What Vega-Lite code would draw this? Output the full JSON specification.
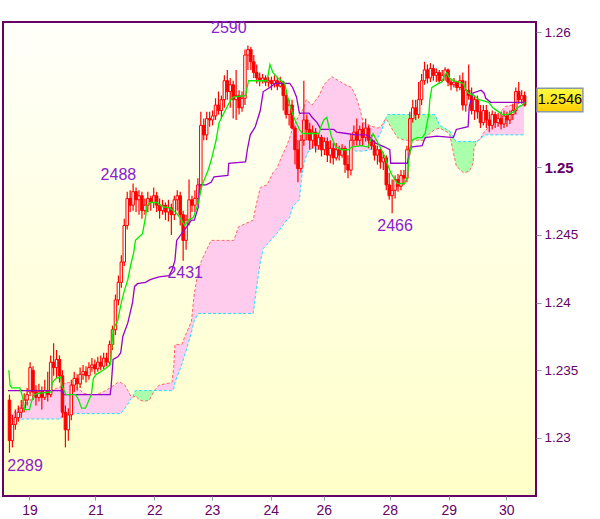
{
"$schema":"https://vega.github.io/schema/vega-lite/v6.json",
"width":533,"height":474,
"autosize":{"type":"none"},
"padding":{"left":3,"top":22,"right":64,"bottom":23},
"background":"#ffffff",
"config":{"view":{"stroke":"#660066","strokeWidth":2,"fill":{"gradient":"linear","x1":0,"y1":0,"x2":0,"y2":1,"stops":[{"offset":0,"color":"#fffffa"},{"offset":1,"color":"#ffffc8"}]}},"font":"Liberation Sans",
 "axis":{"title":null,"grid":false,"domain":false,"tickColor":"#8899aa","labelColor":"#660066","labelFont":"Liberation Sans"}},
"datasets":{
"bars":[
{"t":0,"o":1.2328,"h":1.2332,"l":1.2289,"c":1.2298},
{"t":1,"o":1.2298,"h":1.2317,"l":1.2293,"c":1.2310},
{"t":2,"o":1.2310,"h":1.2321,"l":1.2306,"c":1.2315},
{"t":3,"o":1.2315,"h":1.2324,"l":1.2312,"c":1.2319},
{"t":4,"o":1.2319,"h":1.2328,"l":1.2315,"c":1.2322},
{"t":5,"o":1.2322,"h":1.2333,"l":1.2319,"c":1.2328},
{"t":6,"o":1.2328,"h":1.2337,"l":1.2324,"c":1.2332},
{"t":7,"o":1.2334,"h":1.2356,"l":1.2331,"c":1.2352},
{"t":8,"o":1.2350,"h":1.2353,"l":1.2328,"c":1.2334},
{"t":9,"o":1.2334,"h":1.2339,"l":1.2324,"c":1.2330},
{"t":10,"o":1.2330,"h":1.2340,"l":1.2327,"c":1.2334},
{"t":11,"o":1.2334,"h":1.2338,"l":1.2321,"c":1.2330},
{"t":12,"o":1.2330,"h":1.2343,"l":1.2328,"c":1.2335},
{"t":13,"o":1.2335,"h":1.2349,"l":1.2327,"c":1.2332},
{"t":14,"o":1.2332,"h":1.2361,"l":1.2330,"c":1.2356},
{"t":15,"o":1.2356,"h":1.2370,"l":1.2346,"c":1.2352},
{"t":16,"o":1.2352,"h":1.2365,"l":1.2344,"c":1.2358},
{"t":17,"o":1.2358,"h":1.2361,"l":1.2341,"c":1.2346},
{"t":18,"o":1.2346,"h":1.2350,"l":1.2315,"c":1.2319},
{"t":19,"o":1.2319,"h":1.2324,"l":1.2293,"c":1.2306},
{"t":20,"o":1.2306,"h":1.2322,"l":1.2298,"c":1.2317},
{"t":21,"o":1.2317,"h":1.2343,"l":1.2313,"c":1.2339},
{"t":22,"o":1.2339,"h":1.2349,"l":1.2334,"c":1.2344},
{"t":23,"o":1.2344,"h":1.2347,"l":1.2335,"c":1.2340},
{"t":24,"o":1.2340,"h":1.2352,"l":1.2337,"c":1.2347},
{"t":25,"o":1.2347,"h":1.2354,"l":1.2343,"c":1.2349},
{"t":26,"o":1.2349,"h":1.2353,"l":1.2341,"c":1.2346},
{"t":27,"o":1.2346,"h":1.2356,"l":1.2343,"c":1.2352},
{"t":28,"o":1.2352,"h":1.2359,"l":1.2349,"c":1.2354},
{"t":29,"o":1.2354,"h":1.2358,"l":1.2347,"c":1.2351},
{"t":30,"o":1.2351,"h":1.2360,"l":1.2349,"c":1.2356},
{"t":31,"o":1.2356,"h":1.2361,"l":1.2350,"c":1.2353},
{"t":32,"o":1.2353,"h":1.2363,"l":1.2351,"c":1.2359},
{"t":33,"o":1.2359,"h":1.2363,"l":1.2353,"c":1.2356},
{"t":34,"o":1.2356,"h":1.2372,"l":1.2354,"c":1.2369},
{"t":35,"o":1.2369,"h":1.2383,"l":1.2365,"c":1.2380},
{"t":36,"o":1.2380,"h":1.2406,"l":1.2376,"c":1.2402},
{"t":37,"o":1.2402,"h":1.2420,"l":1.2398,"c":1.2415},
{"t":38,"o":1.2415,"h":1.2435,"l":1.2411,"c":1.2430},
{"t":39,"o":1.2430,"h":1.2462,"l":1.2427,"c":1.2457},
{"t":40,"o":1.2457,"h":1.2482,"l":1.2454,"c":1.2477},
{"t":41,"o":1.2477,"h":1.2483,"l":1.2467,"c":1.2472},
{"t":42,"o":1.2472,"h":1.2488,"l":1.2468,"c":1.2482},
{"t":43,"o":1.2482,"h":1.2485,"l":1.2467,"c":1.2476},
{"t":44,"o":1.2476,"h":1.2483,"l":1.2465,"c":1.2479},
{"t":45,"o":1.2479,"h":1.2482,"l":1.2462,"c":1.2468},
{"t":46,"o":1.2468,"h":1.2477,"l":1.2465,"c":1.2472},
{"t":47,"o":1.2472,"h":1.2482,"l":1.2467,"c":1.2477},
{"t":48,"o":1.2477,"h":1.2479,"l":1.2468,"c":1.2474},
{"t":49,"o":1.2474,"h":1.2485,"l":1.2470,"c":1.2479},
{"t":50,"o":1.2479,"h":1.2482,"l":1.2467,"c":1.2472},
{"t":51,"o":1.2472,"h":1.2477,"l":1.2462,"c":1.2468},
{"t":52,"o":1.2468,"h":1.2476,"l":1.2465,"c":1.2472},
{"t":53,"o":1.2472,"h":1.2474,"l":1.2461,"c":1.2467},
{"t":54,"o":1.2467,"h":1.2476,"l":1.2460,"c":1.2470},
{"t":55,"o":1.2470,"h":1.2473,"l":1.2450,"c":1.2465},
{"t":56,"o":1.2465,"h":1.2479,"l":1.2461,"c":1.2476},
{"t":57,"o":1.2476,"h":1.2483,"l":1.2468,"c":1.2479},
{"t":58,"o":1.2479,"h":1.2482,"l":1.2457,"c":1.2465},
{"t":59,"o":1.2465,"h":1.2468,"l":1.2431,"c":1.2446},
{"t":60,"o":1.2446,"h":1.2465,"l":1.2439,"c":1.2461},
{"t":61,"o":1.2461,"h":1.2491,"l":1.2457,"c":1.2476},
{"t":62,"o":1.2476,"h":1.2479,"l":1.2467,"c":1.2472},
{"t":63,"o":1.2472,"h":1.2483,"l":1.2467,"c":1.2477},
{"t":64,"o":1.2477,"h":1.2492,"l":1.2472,"c":1.2487},
{"t":65,"o":1.2487,"h":1.2541,"l":1.2483,"c":1.2531},
{"t":66,"o":1.2531,"h":1.2536,"l":1.2520,"c":1.2524},
{"t":67,"o":1.2524,"h":1.2541,"l":1.2520,"c":1.2536},
{"t":68,"o":1.2536,"h":1.2541,"l":1.2530,"c":1.2535},
{"t":69,"o":1.2535,"h":1.2542,"l":1.2531,"c":1.2538},
{"t":70,"o":1.2538,"h":1.2551,"l":1.2535,"c":1.2546},
{"t":71,"o":1.2546,"h":1.2556,"l":1.2539,"c":1.2542},
{"t":72,"o":1.2542,"h":1.2553,"l":1.2536,"c":1.2550},
{"t":73,"o":1.2550,"h":1.2568,"l":1.2544,"c":1.2564},
{"t":74,"o":1.2564,"h":1.2572,"l":1.2550,"c":1.2556},
{"t":75,"o":1.2556,"h":1.2566,"l":1.2544,"c":1.2561},
{"t":76,"o":1.2561,"h":1.2564,"l":1.2536,"c":1.2550},
{"t":77,"o":1.2550,"h":1.2572,"l":1.2535,"c":1.2553},
{"t":78,"o":1.2553,"h":1.2557,"l":1.2539,"c":1.2544},
{"t":79,"o":1.2544,"h":1.2556,"l":1.2541,"c":1.2551},
{"t":80,"o":1.2551,"h":1.2587,"l":1.2546,"c":1.2583},
{"t":81,"o":1.2583,"h":1.2590,"l":1.2572,"c":1.2587},
{"t":82,"o":1.2587,"h":1.2589,"l":1.2572,"c":1.2578},
{"t":83,"o":1.2578,"h":1.2583,"l":1.2566,"c":1.2570},
{"t":84,"o":1.2570,"h":1.2576,"l":1.2562,"c":1.2566},
{"t":85,"o":1.2566,"h":1.2570,"l":1.2560,"c":1.2564},
{"t":86,"o":1.2564,"h":1.2569,"l":1.2562,"c":1.2566},
{"t":87,"o":1.2566,"h":1.2568,"l":1.2560,"c":1.2563},
{"t":88,"o":1.2563,"h":1.2567,"l":1.2559,"c":1.2564},
{"t":89,"o":1.2564,"h":1.2567,"l":1.2557,"c":1.2562},
{"t":90,"o":1.2562,"h":1.2568,"l":1.2559,"c":1.2564},
{"t":91,"o":1.2564,"h":1.2567,"l":1.2557,"c":1.2560},
{"t":92,"o":1.2560,"h":1.2567,"l":1.2559,"c":1.2563},
{"t":93,"o":1.2563,"h":1.2564,"l":1.2542,"c":1.2553},
{"t":94,"o":1.2553,"h":1.2557,"l":1.2536,"c":1.2539},
{"t":95,"o":1.2539,"h":1.2550,"l":1.2531,"c":1.2546},
{"t":96,"o":1.2546,"h":1.2550,"l":1.2528,"c":1.2529},
{"t":97,"o":1.2529,"h":1.2531,"l":1.2502,"c":1.2513},
{"t":98,"o":1.2513,"h":1.2520,"l":1.2489,"c":1.2499},
{"t":99,"o":1.2499,"h":1.2524,"l":1.2496,"c":1.2520},
{"t":100,"o":1.2520,"h":1.2564,"l":1.2516,"c":1.2535},
{"t":101,"o":1.2535,"h":1.2539,"l":1.2520,"c":1.2528},
{"t":102,"o":1.2528,"h":1.2533,"l":1.2513,"c":1.2520},
{"t":103,"o":1.2520,"h":1.2531,"l":1.2514,"c":1.2526},
{"t":104,"o":1.2526,"h":1.2529,"l":1.2511,"c":1.2516},
{"t":105,"o":1.2516,"h":1.2525,"l":1.2513,"c":1.2522},
{"t":106,"o":1.2522,"h":1.2524,"l":1.2508,"c":1.2513},
{"t":107,"o":1.2513,"h":1.2522,"l":1.2509,"c":1.2519},
{"t":108,"o":1.2519,"h":1.2522,"l":1.2504,"c":1.2509},
{"t":109,"o":1.2509,"h":1.2520,"l":1.2503,"c":1.2514},
{"t":110,"o":1.2514,"h":1.2518,"l":1.2502,"c":1.2507},
{"t":111,"o":1.2507,"h":1.2518,"l":1.2505,"c":1.2513},
{"t":112,"o":1.2513,"h":1.2516,"l":1.2505,"c":1.2509},
{"t":113,"o":1.2509,"h":1.2517,"l":1.2507,"c":1.2514},
{"t":114,"o":1.2514,"h":1.2516,"l":1.2496,"c":1.2502},
{"t":115,"o":1.2502,"h":1.2509,"l":1.2492,"c":1.2498},
{"t":116,"o":1.2498,"h":1.2524,"l":1.2494,"c":1.2520},
{"t":117,"o":1.2520,"h":1.2531,"l":1.2516,"c":1.2526},
{"t":118,"o":1.2526,"h":1.2536,"l":1.2516,"c":1.2520},
{"t":119,"o":1.2520,"h":1.2531,"l":1.2516,"c":1.2528},
{"t":120,"o":1.2528,"h":1.2533,"l":1.2516,"c":1.2522},
{"t":121,"o":1.2522,"h":1.2536,"l":1.2519,"c":1.2529},
{"t":122,"o":1.2529,"h":1.2531,"l":1.2514,"c":1.2520},
{"t":123,"o":1.2520,"h":1.2524,"l":1.2513,"c":1.2516},
{"t":124,"o":1.2516,"h":1.2520,"l":1.2505,"c":1.2509},
{"t":125,"o":1.2509,"h":1.2516,"l":1.2502,"c":1.2513},
{"t":126,"o":1.2513,"h":1.2514,"l":1.2499,"c":1.2504},
{"t":127,"o":1.2504,"h":1.2511,"l":1.2498,"c":1.2507},
{"t":128,"o":1.2507,"h":1.2509,"l":1.2483,"c":1.2487},
{"t":129,"o":1.2487,"h":1.2496,"l":1.2476,"c":1.2479},
{"t":130,"o":1.2479,"h":1.2491,"l":1.2466,"c":1.2483},
{"t":131,"o":1.2483,"h":1.2494,"l":1.2477,"c":1.2491},
{"t":132,"o":1.2491,"h":1.2495,"l":1.2482,"c":1.2486},
{"t":133,"o":1.2486,"h":1.2498,"l":1.2483,"c":1.2494},
{"t":134,"o":1.2494,"h":1.2498,"l":1.2487,"c":1.2492},
{"t":135,"o":1.2492,"h":1.2516,"l":1.2489,"c":1.2513},
{"t":136,"o":1.2513,"h":1.2541,"l":1.2509,"c":1.2536},
{"t":137,"o":1.2536,"h":1.2550,"l":1.2533,"c":1.2544},
{"t":138,"o":1.2544,"h":1.2550,"l":1.2535,"c":1.2539},
{"t":139,"o":1.2539,"h":1.2563,"l":1.2536,"c":1.2550},
{"t":140,"o":1.2550,"h":1.2569,"l":1.2546,"c":1.2564},
{"t":141,"o":1.2564,"h":1.2578,"l":1.2561,"c":1.2572},
{"t":142,"o":1.2572,"h":1.2576,"l":1.2562,"c":1.2566},
{"t":143,"o":1.2566,"h":1.2577,"l":1.2563,"c":1.2573},
{"t":144,"o":1.2573,"h":1.2576,"l":1.2564,"c":1.2568},
{"t":145,"o":1.2568,"h":1.2573,"l":1.2563,"c":1.2570},
{"t":146,"o":1.2570,"h":1.2572,"l":1.2562,"c":1.2564},
{"t":147,"o":1.2564,"h":1.2572,"l":1.2563,"c":1.2568},
{"t":148,"o":1.2568,"h":1.2574,"l":1.2564,"c":1.2572},
{"t":149,"o":1.2572,"h":1.2573,"l":1.2560,"c":1.2563},
{"t":150,"o":1.2563,"h":1.2565,"l":1.2557,"c":1.2561},
{"t":151,"o":1.2561,"h":1.2566,"l":1.2559,"c":1.2563},
{"t":152,"o":1.2563,"h":1.2564,"l":1.2556,"c":1.2559},
{"t":153,"o":1.2559,"h":1.2568,"l":1.2557,"c":1.2564},
{"t":154,"o":1.2564,"h":1.2570,"l":1.2542,"c":1.2546},
{"t":155,"o":1.2546,"h":1.2564,"l":1.2541,"c":1.2557},
{"t":156,"o":1.2557,"h":1.2576,"l":1.2550,"c":1.2553},
{"t":157,"o":1.2553,"h":1.2559,"l":1.2539,"c":1.2542},
{"t":158,"o":1.2542,"h":1.2553,"l":1.2535,"c":1.2550},
{"t":159,"o":1.2550,"h":1.2553,"l":1.2536,"c":1.2541},
{"t":160,"o":1.2541,"h":1.2546,"l":1.2529,"c":1.2533},
{"t":161,"o":1.2533,"h":1.2546,"l":1.2531,"c":1.2542},
{"t":162,"o":1.2542,"h":1.2546,"l":1.2529,"c":1.2535},
{"t":163,"o":1.2535,"h":1.2541,"l":1.2526,"c":1.2531},
{"t":164,"o":1.2531,"h":1.2542,"l":1.2528,"c":1.2539},
{"t":165,"o":1.2539,"h":1.2541,"l":1.2529,"c":1.2533},
{"t":166,"o":1.2533,"h":1.2540,"l":1.2530,"c":1.2536},
{"t":167,"o":1.2536,"h":1.2541,"l":1.2528,"c":1.2532},
{"t":168,"o":1.2532,"h":1.2542,"l":1.2529,"c":1.2538},
{"t":169,"o":1.2538,"h":1.2541,"l":1.2530,"c":1.2535},
{"t":170,"o":1.2535,"h":1.2542,"l":1.2532,"c":1.2539},
{"t":171,"o":1.2539,"h":1.2547,"l":1.2535,"c":1.2542},
{"t":172,"o":1.2542,"h":1.2559,"l":1.2539,"c":1.2556},
{"t":173,"o":1.2556,"h":1.2563,"l":1.2547,"c":1.2550},
{"t":174,"o":1.2550,"h":1.2557,"l":1.2547,"c":1.2553},
{"t":175,"o":1.2553,"h":1.2556,"l":1.2545,"c":1.2546}
],
"tenkan":[
{"t":-0.2,"v":1.2350},{"t":0.2,"v":1.2339},{"t":0.8,"v":1.2337},{"t":3.5,"v":1.2337},{"t":4.5,"v":1.2330},{"t":5.2,"v":1.2321},{"t":6.8,"v":1.2321},{"t":7.5,"v":1.2327},{"t":8.5,"v":1.2332},{"t":9.5,"v":1.2333},{"t":14.2,"v":1.2334},{"t":14.5,"v":1.2341},{"t":15.8,"v":1.2344},{"t":17.5,"v":1.2345},{"t":17.8,"v":1.2339},{"t":19.2,"v":1.2332},{"t":22.5,"v":1.2332},{"t":23.5,"v":1.2328},{"t":24.5,"v":1.2322},{"t":25.8,"v":1.2322},{"t":26.8,"v":1.2327},{"t":27.8,"v":1.2332},{"t":28.5,"v":1.2344},{"t":29.5,"v":1.2347},{"t":31.8,"v":1.2350},{"t":34.2,"v":1.2354},{"t":34.5,"v":1.2360},{"t":35.2,"v":1.2380},{"t":36.8,"v":1.2387},{"t":37.8,"v":1.2398},{"t":38.8,"v":1.2407},{"t":40.2,"v":1.2417},{"t":41.2,"v":1.2428},{"t":42.2,"v":1.2437},{"t":42.8,"v":1.2446},{"t":45.2,"v":1.2451},{"t":46.2,"v":1.2463},{"t":46.8,"v":1.2472},{"t":47.8,"v":1.2474},{"t":50.2,"v":1.2474},{"t":51.8,"v":1.2471},{"t":54.5,"v":1.2470},{"t":56.8,"v":1.2466},{"t":58.5,"v":1.2461},{"t":59.5,"v":1.2457},{"t":60.8,"v":1.2461},{"t":62.5,"v":1.2463},{"t":64.2,"v":1.2474},{"t":65.2,"v":1.2485},{"t":66.2,"v":1.2491},{"t":67.5,"v":1.2498},{"t":68.5,"v":1.2505},{"t":70.2,"v":1.2520},{"t":71.2,"v":1.2533},{"t":72.8,"v":1.2540},{"t":75.2,"v":1.2550},{"t":76.2,"v":1.2552},{"t":80.2,"v":1.2553},{"t":81.2,"v":1.2564},{"t":87.5,"v":1.2564},{"t":88.5,"v":1.2576},{"t":89.5,"v":1.2570},{"t":91.2,"v":1.2566},{"t":93.5,"v":1.2562},{"t":94.5,"v":1.2552},{"t":95.8,"v":1.2542},{"t":96.8,"v":1.2536},{"t":98.5,"v":1.2528},{"t":99.5,"v":1.2525},{"t":105.2,"v":1.2525},{"t":105.8,"v":1.2530},{"t":106.8,"v":1.2535},{"t":107.8,"v":1.2537},{"t":108.5,"v":1.2530},{"t":109.5,"v":1.2522},{"t":110.8,"v":1.2515},{"t":112.8,"v":1.2513},{"t":115.2,"v":1.2513},{"t":116.2,"v":1.2515},{"t":119.5,"v":1.2516},{"t":121.8,"v":1.2515},{"t":123.5,"v":1.2525},{"t":124.2,"v":1.2522},{"t":125.2,"v":1.2518},{"t":127.5,"v":1.2508},{"t":129.5,"v":1.2496},{"t":131.8,"v":1.2488},{"t":134.2,"v":1.2488},{"t":135.2,"v":1.2493},{"t":135.8,"v":1.2508},{"t":136.8,"v":1.2520},{"t":138.5,"v":1.2522},{"t":140.2,"v":1.2522},{"t":141.2,"v":1.2525},{"t":142.5,"v":1.2540},{"t":142.8,"v":1.2550},{"t":143.5,"v":1.2559},{"t":145.8,"v":1.2562},{"t":146.8,"v":1.2563},{"t":147.8,"v":1.2568},{"t":148.5,"v":1.2570},{"t":149.5,"v":1.2566},{"t":150.8,"v":1.2564},{"t":154.2,"v":1.2562},{"t":155.2,"v":1.2557},{"t":155.8,"v":1.2555},{"t":157.8,"v":1.2553},{"t":159.5,"v":1.2550},{"t":162.8,"v":1.2548},{"t":164.2,"v":1.2544},{"t":166.2,"v":1.2541},{"t":167.5,"v":1.2539},{"t":169.2,"v":1.2539},{"t":171.2,"v":1.2541},{"t":172.5,"v":1.2544},{"t":174.2,"v":1.2546},{"t":175.2,"v":1.2548}
],
"kijun":[
{"t":-0.5,"v":1.2335},{"t":17.8,"v":1.2335},{"t":18.5,"v":1.2332},{"t":34.2,"v":1.2332},{"t":34.5,"v":1.2337},{"t":35.2,"v":1.2358},{"t":36.8,"v":1.2360},{"t":37.8,"v":1.2363},{"t":38.5,"v":1.2375},{"t":40.2,"v":1.2385},{"t":41.8,"v":1.2400},{"t":42.5,"v":1.2412},{"t":43.5,"v":1.2414},{"t":46.2,"v":1.2415},{"t":47.8,"v":1.2417},{"t":50.8,"v":1.2419},{"t":54.2,"v":1.2420},{"t":55.2,"v":1.2424},{"t":56.2,"v":1.2431},{"t":56.8,"v":1.2446},{"t":58.5,"v":1.2451},{"t":60.2,"v":1.2456},{"t":61.8,"v":1.2461},{"t":62.8,"v":1.2461},{"t":64.2,"v":1.2471},{"t":64.5,"v":1.2487},{"t":66.8,"v":1.2487},{"t":68.5,"v":1.2489},{"t":69.5,"v":1.2493},{"t":74.2,"v":1.2494},{"t":74.5,"v":1.2503},{"t":80.2,"v":1.2504},{"t":80.8,"v":1.2513},{"t":81.8,"v":1.2524},{"t":83.5,"v":1.2530},{"t":85.2,"v":1.2542},{"t":86.2,"v":1.2556},{"t":88.5,"v":1.2559},{"t":90.2,"v":1.2562},{"t":95.2,"v":1.2562},{"t":96.2,"v":1.2559},{"t":97.5,"v":1.2552},{"t":98.5,"v":1.2540},{"t":101.8,"v":1.2540},{"t":102.8,"v":1.2537},{"t":104.5,"v":1.2533},{"t":105.8,"v":1.2528},{"t":110.2,"v":1.2528},{"t":111.2,"v":1.2526},{"t":114.5,"v":1.2525},{"t":117.8,"v":1.2524},{"t":121.2,"v":1.2524},{"t":122.5,"v":1.2522},{"t":124.2,"v":1.2518},{"t":127.5,"v":1.2515},{"t":129.2,"v":1.2513},{"t":129.5,"v":1.2503},{"t":135.2,"v":1.2503},{"t":136.2,"v":1.2515},{"t":140.2,"v":1.2516},{"t":141.2,"v":1.2522},{"t":145.2,"v":1.2523},{"t":150.8,"v":1.2522},{"t":151.8,"v":1.2528},{"t":155.8,"v":1.2530},{"t":156.2,"v":1.2545},{"t":157.5,"v":1.2555},{"t":160.2,"v":1.2557},{"t":161.2,"v":1.2555},{"t":161.8,"v":1.2551},{"t":163.5,"v":1.2548},{"t":175.2,"v":1.2548}
],
"cloud":[
{"s":1,"k":"p","t":0.2,"a":1.2316,"b":1.2316},{"s":1,"k":"p","t":1.2,"a":1.2318,"b":1.2312},{"s":1,"k":"p","t":3.5,"a":1.2323,"b":1.2314},{"s":1,"k":"p","t":6.8,"a":1.2327,"b":1.2314},{"s":1,"k":"p","t":7.8,"a":1.2330,"b":1.2314},{"s":1,"k":"p","t":9.2,"a":1.2334,"b":1.2314},{"s":1,"k":"p","t":14.2,"a":1.2335,"b":1.2314},{"s":1,"k":"p","t":17.5,"a":1.2338,"b":1.2314},{"s":1,"k":"p","t":17.8,"a":1.2340,"b":1.2318},{"s":1,"k":"p","t":20.2,"a":1.2341,"b":1.2318},{"s":1,"k":"p","t":21.8,"a":1.2339,"b":1.2318},{"s":1,"k":"p","t":24.2,"a":1.2335,"b":1.2318},{"s":1,"k":"p","t":25.2,"a":1.2333,"b":1.2318},{"s":1,"k":"p","t":27.5,"a":1.2332,"b":1.2318},{"s":1,"k":"p","t":29.5,"a":1.2332,"b":1.2318},{"s":1,"k":"p","t":31.8,"a":1.2334,"b":1.2318},{"s":1,"k":"p","t":34.2,"a":1.2337,"b":1.2318},{"s":1,"k":"p","t":36.8,"a":1.2341,"b":1.2318},{"s":1,"k":"p","t":37.8,"a":1.2341,"b":1.2318},{"s":1,"k":"p","t":39.2,"a":1.2339,"b":1.2322},{"s":1,"k":"p","t":40.2,"a":1.2335,"b":1.2325},{"s":1,"k":"p","t":41.2,"a":1.2331,"b":1.2329},{"s":1,"k":"p","t":41.8,"a":1.2330,"b":1.2330},
{"s":2,"k":"g","t":41.8,"a":1.2330,"b":1.2330},{"s":2,"k":"g","t":42.8,"a":1.2331,"b":1.2335},{"s":2,"k":"g","t":44.2,"a":1.2328,"b":1.2335},{"s":2,"k":"g","t":45.8,"a":1.2327,"b":1.2335},{"s":2,"k":"g","t":47.5,"a":1.2328,"b":1.2335},{"s":2,"k":"g","t":49.2,"a":1.2335,"b":1.2335},
{"s":3,"k":"p","t":49.2,"a":1.2335,"b":1.2335},{"s":3,"k":"p","t":50.8,"a":1.2339,"b":1.2335},{"s":3,"k":"p","t":55.2,"a":1.2341,"b":1.2335},{"s":3,"k":"p","t":55.8,"a":1.2352,"b":1.2336},{"s":3,"k":"p","t":56.2,"a":1.2369,"b":1.2341},{"s":3,"k":"p","t":58.5,"a":1.2369,"b":1.2354},{"s":3,"k":"p","t":60.2,"a":1.2378,"b":1.2366},{"s":3,"k":"p","t":61.8,"a":1.2386,"b":1.2378},{"s":3,"k":"p","t":62.8,"a":1.2407,"b":1.2387},{"s":3,"k":"p","t":64.2,"a":1.2424,"b":1.2392},{"s":3,"k":"p","t":65.2,"a":1.2431,"b":1.2392},{"s":3,"k":"p","t":68.5,"a":1.2446,"b":1.2392},{"s":3,"k":"p","t":76.2,"a":1.2446,"b":1.2392},{"s":3,"k":"p","t":77.8,"a":1.2456,"b":1.2392},{"s":3,"k":"p","t":82.8,"a":1.2461,"b":1.2392},{"s":3,"k":"p","t":83.8,"a":1.2472,"b":1.2409},{"s":3,"k":"p","t":85.2,"a":1.2485,"b":1.2430},{"s":3,"k":"p","t":86.2,"a":1.2486,"b":1.2440},{"s":3,"k":"p","t":87.5,"a":1.2487,"b":1.2443},{"s":3,"k":"p","t":89.5,"a":1.2496,"b":1.2448},{"s":3,"k":"p","t":90.8,"a":1.2499,"b":1.2451},{"s":3,"k":"p","t":92.5,"a":1.2508,"b":1.2456},{"s":3,"k":"p","t":94.2,"a":1.2516,"b":1.2461},{"s":3,"k":"p","t":95.2,"a":1.2522,"b":1.2463},{"s":3,"k":"p","t":96.2,"a":1.2529,"b":1.2471},{"s":3,"k":"p","t":98.5,"a":1.2539,"b":1.2476},{"s":3,"k":"p","t":99.2,"a":1.2541,"b":1.2492},{"s":3,"k":"p","t":100.2,"a":1.2545,"b":1.2505},{"s":3,"k":"p","t":100.8,"a":1.2550,"b":1.2508},{"s":3,"k":"p","t":101.8,"a":1.2548,"b":1.2513},{"s":3,"k":"p","t":102.8,"a":1.2546,"b":1.2514},{"s":3,"k":"p","t":105.2,"a":1.2553,"b":1.2513},{"s":3,"k":"p","t":106.8,"a":1.2561,"b":1.2513},{"s":3,"k":"p","t":109.5,"a":1.2567,"b":1.2513},{"s":3,"k":"p","t":111.8,"a":1.2564,"b":1.2513},{"s":3,"k":"p","t":114.2,"a":1.2561,"b":1.2513},{"s":3,"k":"p","t":116.2,"a":1.2559,"b":1.2513},{"s":3,"k":"p","t":117.8,"a":1.2552,"b":1.2512},{"s":3,"k":"p","t":119.2,"a":1.2542,"b":1.2512},{"s":3,"k":"p","t":120.2,"a":1.2533,"b":1.2512},{"s":3,"k":"p","t":122.5,"a":1.2531,"b":1.2513},{"s":3,"k":"p","t":123.5,"a":1.2530,"b":1.2515},{"s":3,"k":"p","t":125.2,"a":1.2529,"b":1.2522},{"s":3,"k":"p","t":126.2,"a":1.2530,"b":1.2526},{"s":3,"k":"p","t":127.8,"a":1.2536,"b":1.2536},
{"s":4,"k":"g","t":127.8,"a":1.2536,"b":1.2536},{"s":4,"k":"g","t":128.5,"a":1.2534,"b":1.2539},{"s":4,"k":"g","t":129.5,"a":1.2530,"b":1.2539},{"s":4,"k":"g","t":131.8,"a":1.2522,"b":1.2539},{"s":4,"k":"g","t":134.2,"a":1.2520,"b":1.2539},{"s":4,"k":"g","t":140.8,"a":1.2520,"b":1.2539},{"s":4,"k":"g","t":142.8,"a":1.2525,"b":1.2539},{"s":4,"k":"g","t":144.5,"a":1.2528,"b":1.2539},{"s":4,"k":"g","t":146.2,"a":1.2529,"b":1.2531},{"s":4,"k":"g","t":149.5,"a":1.2525,"b":1.2527},{"s":4,"k":"g","t":150.8,"a":1.2511,"b":1.2522},{"s":4,"k":"g","t":151.8,"a":1.2501,"b":1.2519},{"s":4,"k":"g","t":154.2,"a":1.2496,"b":1.2519},{"s":4,"k":"g","t":156.2,"a":1.2497,"b":1.2519},{"s":4,"k":"g","t":157.5,"a":1.2503,"b":1.2519},{"s":4,"k":"g","t":157.8,"a":1.2514,"b":1.2519},{"s":4,"k":"g","t":158.8,"a":1.2519,"b":1.2519},
{"s":5,"k":"p","t":158.8,"a":1.2519,"b":1.2519},{"s":5,"k":"p","t":160.2,"a":1.2522,"b":1.2521},{"s":5,"k":"p","t":160.8,"a":1.2525,"b":1.2523},{"s":5,"k":"p","t":161.8,"a":1.2527,"b":1.2524},{"s":5,"k":"p","t":164.2,"a":1.2535,"b":1.2524},{"s":5,"k":"p","t":166.2,"a":1.2540,"b":1.2524},{"s":5,"k":"p","t":168.5,"a":1.2545,"b":1.2524},{"s":5,"k":"p","t":170.8,"a":1.2546,"b":1.2524},{"s":5,"k":"p","t":172.8,"a":1.2545,"b":1.2524},{"s":5,"k":"p","t":174.8,"a":1.2546,"b":1.2524}
],
"notes":[
{"t":74.5,"p":1.2603,"label":"2590"},
{"t":37.0,"p":1.2494,"label":"2488"},
{"t":59.7,"p":1.2422,"label":"2431"},
{"t":131.0,"p":1.2457,"label":"2466"},
{"t":5.3,"p":1.2279,"label":"2289"}
],
"last":[{"price":1.2546}]
},
"encoding":{
 "x":{"type":"quantitative","scale":{"domain":[-0.5,177.17],"nice":false,"zero":false},
   "axis":{"orient":"bottom","values":[6.8,29.2,49.2,68.8,88.8,106.8,129.2,149.2,168.8],
    "labelExpr":"['19','21','22','23','24','26','28','29','30'][indexof([6.8,29.2,49.2,68.8,88.8,106.8,129.2,149.2,168.8], datum.value)]",
    "tickSize":4,"labelFontSize":14,"labelPadding":3}},
 "y":{"type":"quantitative","scale":{"domain":[1.22571,1.26074],"nice":false,"zero":false},
   "axis":{"orient":"right","values":[1.23,1.235,1.24,1.245,1.25,1.255,1.26],"format":"~g",
    "tickSize":5,"labelPadding":3,
    "labelFontSize":{"condition":{"test":"datum.value == 1.25","value":15},"value":13.5},
    "labelFontWeight":{"condition":{"test":"datum.value == 1.25","value":"bold"},"value":"normal"}}}
},
"layer":[
{"data":{"name":"cloud"},"mark":{"type":"area","opacity":1},
 "encoding":{
  "x":{"field":"t","type":"quantitative"},
  "y":{"field":"a","type":"quantitative"},
  "y2":{"field":"b"},
  "detail":{"field":"s"},
  "color":{"field":"k","type":"nominal","scale":{"domain":["p","g"],"range":["#ffccee","#aaffaa"]},"legend":null}
 }},
{"data":{"name":"cloud"},"mark":{"type":"line","color":"#ff6666","strokeWidth":1,"strokeDash":[3,2]},
 "encoding":{"x":{"field":"t","type":"quantitative"},"y":{"field":"a","type":"quantitative"}}},
{"data":{"name":"cloud"},"mark":{"type":"line","color":"#22ddff","strokeWidth":1,"strokeDash":[3,2]},
 "encoding":{"x":{"field":"t","type":"quantitative"},"y":{"field":"b","type":"quantitative"}}},
{"data":{"name":"bars"},"mark":{"type":"rule","color":"#ff0000","strokeWidth":1.2},
 "encoding":{"x":{"field":"t","type":"quantitative"},"y":{"field":"l","type":"quantitative"},"y2":{"field":"h"}}},
{"data":{"name":"bars"},"mark":{"type":"bar","size":2.5,"stroke":"#ff0000","strokeWidth":1},
 "encoding":{"x":{"field":"t","type":"quantitative"},"y":{"field":"o","type":"quantitative"},"y2":{"field":"c"},
  "fill":{"condition":{"test":"datum.c >= datum.o","value":"#fff8f0"},"value":"#ff0000"}}},
{"data":{"name":"kijun"},"mark":{"type":"line","color":"#9900cc","strokeWidth":1.3},
 "encoding":{"x":{"field":"t","type":"quantitative"},"y":{"field":"v","type":"quantitative"}}},
{"data":{"name":"tenkan"},"mark":{"type":"line","color":"#00ee00","strokeWidth":1.3},
 "encoding":{"x":{"field":"t","type":"quantitative"},"y":{"field":"v","type":"quantitative"}}},
{"data":{"name":"notes"},"mark":{"type":"text","color":"#8a20d0","fontSize":16,"font":"Liberation Sans","align":"center","baseline":"middle"},
 "encoding":{"x":{"field":"t","type":"quantitative"},"y":{"field":"p","type":"quantitative"},"text":{"field":"label"}}},
{"data":{"name":"last"},"mark":{"type":"rect","stroke":"#8899aa","strokeWidth":1.5,"clip":false,
  "fill":{"gradient":"linear","x1":0,"y1":0,"x2":0,"y2":1,"stops":[{"offset":0,"color":"#ffff44"},{"offset":1,"color":"#ffcc00"}]}},
 "encoding":{"x":{"datum":179.2,"type":"quantitative"},"x2":{"datum":194.8},
  "y":{"datum":1.25585,"type":"quantitative"},"y2":{"datum":1.2541}}},
{"data":{"name":"last"},"mark":{"type":"text","color":"#000000","fontSize":14.5,"font":"Liberation Sans","align":"center","baseline":"middle"},
 "encoding":{"x":{"datum":187.0,"type":"quantitative"},"y":{"datum":1.25495,"type":"quantitative"},
  "text":{"field":"price","format":".4f"}}}
]
}
